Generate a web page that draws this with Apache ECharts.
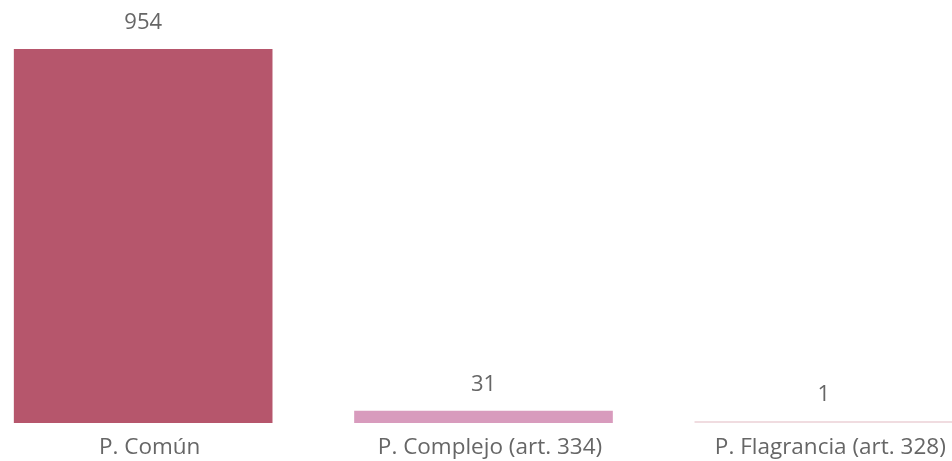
<!DOCTYPE html>
<html><head><meta charset="utf-8">
<script src="https://cdn.jsdelivr.net/npm/echarts@6/dist/echarts.min.js"></script>
<style>html,body{margin:0;padding:0;background:#fff}#c{width:952px;height:461px}</style>
</head><body><div id="c"></div>
<script>
const categories = ["P. Común", "P. Complejo (art. 334)", "P. Flagrancia (art. 328)"];
const values = [954, 31, 1];
const colors = ["#B6566C", "#D89BBD", "#F0DCE0"];

const chart = echarts.init(document.getElementById('c'), null, {renderer: 'canvas'});
chart.setOption({
  animation: false,
  grid: {left: -27, width: 1021, top: 49, bottom: 38, containLabel: false, outerBoundsMode: 'none'},
  xAxis: {
    type: 'category', data: categories,
    axisLine: {show: false}, axisTick: {show: false},
    axisLabel: {fontFamily: 'Open Sans', fontSize: 22.5, color: '#666666', margin: 13, interval: 0, padding: [0, 0, 0, 13]}
  },
  yAxis: {type: 'value', min: 0, max: 954, show: false, splitLine: {show: false}},
  series: [{
    type: 'bar',
    data: values.map((v, i) => ({value: v, itemStyle: {color: colors[i]}})),
    barCategoryGap: '24%',
    barMinHeight: 2,
    label: {show: true, position: 'top', distance: 15, fontFamily: 'Open Sans', fontSize: 22, color: '#666666'}
  }]
});
</script></body></html>
